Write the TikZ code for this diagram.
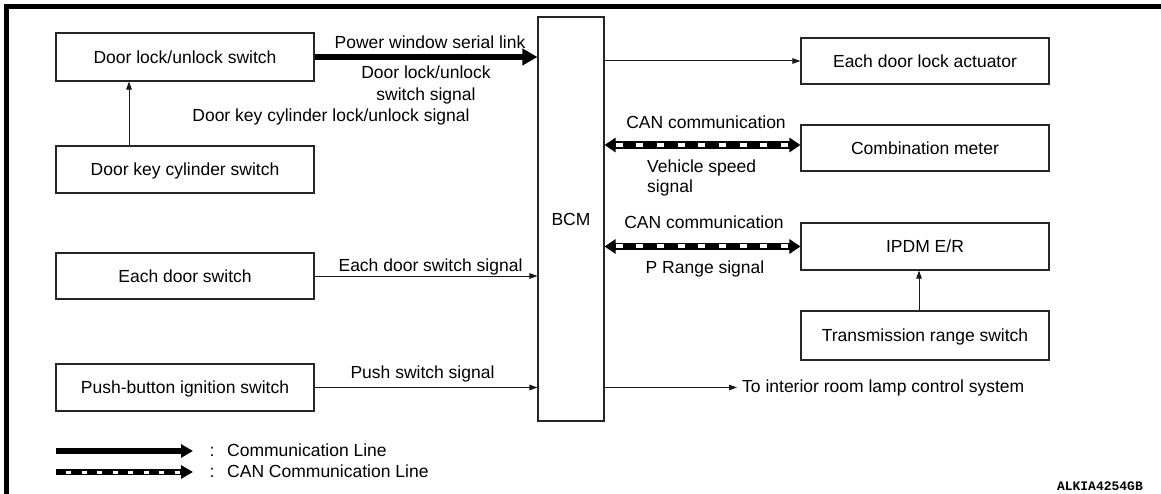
\documentclass[tikz,border=0pt]{standalone}
\usepackage{fontspec}
\setmainfont{Liberation Sans}
\newfontfamily\codefont{Liberation Mono}
\usetikzlibrary{arrows.meta}
\newcommand\diagfont{\fontsize{17.5}{21}\selectfont}
\begin{document}
\begin{tikzpicture}[x=1pt,y=-1pt,
  box/.style={draw=black!85, line width=1.1pt, inner sep=0pt, text height=12.5pt, text depth=0pt, font=\diagfont},
  lab/.style={inner sep=0pt, anchor=base, font=\diagfont},
  sig/.style={draw=black!90, line width=1pt, -{Triangle[length=8pt,width=5.5pt]}},
  comm/.style={line width=6pt, -{Triangle[length=15pt,width=16pt]}},
  canout/.style={line width=7.5pt, {Triangle[length=11pt,width=14pt]}-{Triangle[length=11pt,width=14pt]}},
  canin/.style={draw=white, line width=4pt, dash pattern=on 7pt off 13.7pt, shorten <=11pt, shorten >=11pt},
  legcomm/.style={line width=5.5pt, -{Triangle[length=12pt,width=13pt]}},
  legcanout/.style={line width=6pt, -{Triangle[length=12pt,width=13pt]}},
  legcanin/.style={draw=white, line width=3pt, dash pattern=on 5pt off 10.5pt, dash phase=-10pt, shorten >=12pt}
]
\useasboundingbox (0,0) rectangle (1161,494);
% frame
\draw[line width=4.5pt, line join=miter] (6.5,494) -- (6.5,6.5) -- (1161,6.5);

% left boxes
\node[box, minimum width=258pt, minimum height=48pt] (dl) at (185,57) {Door lock/unlock switch};
\node[box, minimum width=258pt, minimum height=47pt] (dk) at (185,169.5) {Door key cylinder switch};
\node[box, minimum width=258pt, minimum height=46pt] (ed) at (185,276) {Each door switch};
\node[box, minimum width=258pt, minimum height=47pt] (pb) at (185,387.5) {Push-button ignition switch};
% BCM
\node[box, minimum width=66pt, minimum height=404pt] (bcm) at (571,219) {BCM};
% right boxes
\node[box, minimum width=248pt, minimum height=46pt] (act) at (925,61) {Each door lock actuator};
\node[box, minimum width=248pt, minimum height=46pt] (cm) at (925,148) {Combination meter};
\node[box, minimum width=248pt, minimum height=47pt] (ipdm) at (925,246.5) {IPDM E/R};
\node[box, minimum width=248pt, minimum height=49pt] (trs) at (925,335.5) {Transmission range switch};

% connectors
\coordinate (kx) at (129,0);
\draw[sig] (dk.north -| kx) -- (dl.south -| kx);
\draw[comm] (dl.east) -- (dl.east -| bcm.west);
\draw[sig] (bcm.east |- act.west) -- (act.west);
\coordinate (c1) at (0,145);
\draw[canout] (bcm.east |- c1) -- (cm.west |- c1);
\draw[canin] (bcm.east |- c1) -- (cm.west |- c1);
\draw[canout] (bcm.east |- ipdm.west) -- (ipdm.west);
\draw[canin] (bcm.east |- ipdm.west) -- (ipdm.west);
\draw[sig] (ed.east) -- (ed.east -| bcm.west);
\draw[sig] (pb.east) -- (pb.east -| bcm.west);
\coordinate (tx) at (919,0);
\draw[sig] (trs.north -| tx) -- (ipdm.south -| tx);
\coordinate (lamp) at (737,387.5);
\draw[sig] (bcm.east |- pb.east) -- (lamp);

% labels
\node[lab] (pw) at (430,49) {Power window serial link};
\node[lab] (dls1) at (426,79) {Door lock/unlock};
\node[lab] (dls2) at (426,101) {switch signal};
\node[lab] (dkc) at (331,122) {Door key cylinder lock/unlock signal};
\node[lab] (can1) at (706,129) {CAN communication};
\node[lab, anchor=base west] (vs1) at (647,173) {Vehicle speed};
\node[lab, anchor=base west] (vs2) at (647,193) {signal};
\node[lab] (can2) at (704,229) {CAN communication};
\node[lab] (pr) at (705,273) {P Range signal};
\node[lab] (eds) at (430.5,271) {Each door switch signal};
\node[lab] (pss) at (422.5,378) {Push switch signal};
\node[lab, anchor=base west] (lampl) at (742,392) {To interior room lamp control system};

% legend
\coordinate (l1a) at (56,451); \coordinate (l1b) at (193,451);
\draw[legcomm] (l1a) -- (l1b);
\node[lab] (col1) at (212,456) {:};
\node[lab, anchor=base west] (lt1) at (227,456) {Communication Line};
\coordinate (l2a) at (56,472); \coordinate (l2b) at (193,472);
\draw[legcanout] (l2a) -- (l2b);
\draw[legcanin] (l2a) -- (l2b);
\node[lab] (col2) at (212,477) {:};
\node[lab, anchor=base west] (lt2) at (227,477) {CAN Communication Line};

\node[anchor=base east, inner sep=0pt, font=\codefont\bfseries\fontsize{13}{15}\selectfont] (code) at (1143,490) {ALKIA4254GB};
\end{tikzpicture}
\end{document}
